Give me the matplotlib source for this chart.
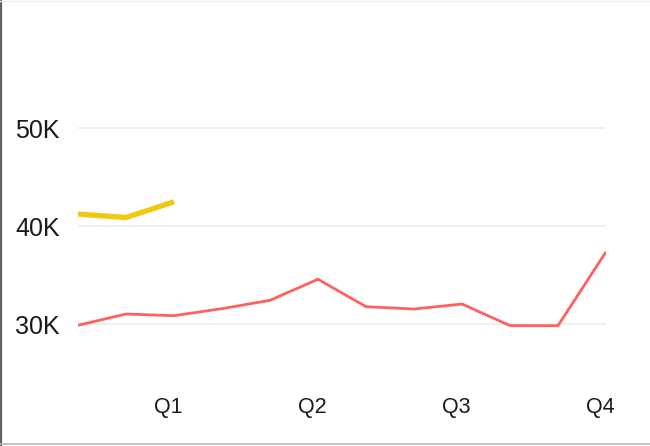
import numpy as np
import matplotlib.pyplot as plt
from matplotlib.lines import Line2D
from matplotlib.transforms import ScaledTranslation
from matplotlib.ticker import FuncFormatter

# monthly values (12 months), second series only has the first three
months = list(range(12))
sales_this_year = [29900, 31050, 30880, 31600, 32450, 34600, 31800, 31560, 32070, 29870, 29860, 37400]
sales_last_year = [41250, 40900, 42500]
quarter_ticks = [2, 5, 8, 11]
quarter_labels = ["Q1", "Q2", "Q3", "Q4"]
y_ticks = [30000, 40000, 50000]

plt.rcParams['font.family'] = ['Liberation Sans', 'DejaVu Sans']

fig = plt.figure(figsize=(6.5, 4.46), dpi=100)
ax = fig.add_axes([0.12, 0.141, 0.8123, 0.791])

ax.plot(months, sales_this_year, color="#FD625E", lw=2.0, solid_capstyle="butt", zorder=3)
ax.plot(months[:len(sales_last_year)], sales_last_year, color="#F2C80F", lw=3.8,
        solid_capstyle="butt", zorder=3)

ax.set_xlim(0, 11)
ax.set_ylim(24000, 60000)
ax.set_yticks(y_ticks)
ax.yaxis.set_major_formatter(FuncFormatter(lambda v, p: f"{int(v / 1000)}K"))
ax.set_xticks(quarter_ticks)
ax.set_xticklabels(quarter_labels)

ax.grid(axis="y", color="#eeeeee", lw=1.3)
ax.set_axisbelow(True)
for s in ax.spines.values():
    s.set_visible(False)
ax.tick_params(axis="y", length=0, pad=13, labelsize=18, labelcolor="#1a1a1a")
ax.tick_params(axis="x", length=0, pad=10, labelsize=15.5, labelcolor="#1a1a1a")

# quarter labels sit slightly left of the month they mark
shift = ScaledTranslation(-6 / 100, 0, fig.dpi_scale_trans)
for lab in ax.get_xticklabels():
    lab.set_transform(lab.get_transform() + shift)

# thin frame around the visual
fig.add_artist(Line2D([0.002, 0.002], [0, 1], transform=fig.transFigure, color="#606060", lw=1.6))
fig.add_artist(Line2D([0, 1], [0.004, 0.004], transform=fig.transFigure, color="#b8b8b8", lw=1.2))
fig.add_artist(Line2D([0, 1], [0.998, 0.998], transform=fig.transFigure, color="#eeeeee", lw=1.0))

fig.savefig("out.png", dpi=100)
